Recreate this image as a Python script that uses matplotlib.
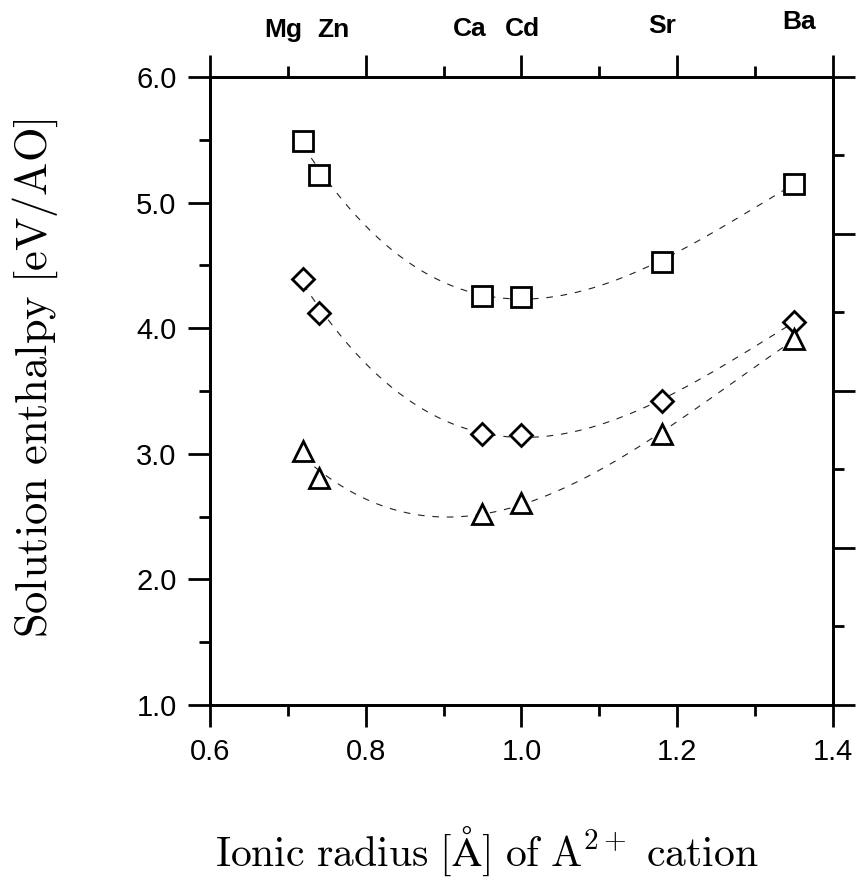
import numpy as np
import matplotlib
matplotlib.use("Agg")
import matplotlib.pyplot as plt
from matplotlib.ticker import MultipleLocator, FixedLocator, FormatStrFormatter

# data
elements = ["Mg", "Zn", "Ca", "Cd", "Sr", "Ba"]
radius = [0.72, 0.74, 0.95, 1.00, 1.18, 1.35]
h_square = [5.49, 5.22, 4.26, 4.25, 4.53, 5.15]
h_diamond = [4.39, 4.12, 3.16, 3.15, 3.42, 4.05]
h_triangle = [3.02, 2.81, 2.52, 2.61, 3.16, 3.91]

# top label placement (x in data units, height above frame in px)
label_x = [0.694, 0.758, 0.934, 1.001, 1.181, 1.357]
label_dy = [40, 40, 41, 41, 44, 48]

plt.rcParams["font.family"] = ["Liberation Sans", "DejaVu Sans"]
plt.rcParams["mathtext.fontset"] = "cm"

fig = plt.figure(figsize=(8.64, 8.8), dpi=100)
ax = fig.add_axes([0.243, 0.199, 0.721, 0.7135])

xs = np.linspace(min(radius), max(radius), 200)
for h, m, ms in [(h_square, "s", 15), (h_diamond, "D", 11), (h_triangle, "^", 15)]:
    c = np.polyfit(radius, h, 3)
    ax.plot(xs, np.polyval(c, xs), ls=(0, (6, 7)), lw=0.8, color="#222222", zorder=1)
    ax.plot(radius, h, ls="none", marker=m, ms=ms, mfc="white", mec="black",
            mew=2, zorder=2)

ax.set_xlim(0.6, 1.4)
ax.set_ylim(1.0, 6.0)
ax.xaxis.set_major_locator(MultipleLocator(0.2))
ax.xaxis.set_minor_locator(MultipleLocator(0.1))
ax.yaxis.set_major_locator(MultipleLocator(1.0))
ax.yaxis.set_minor_locator(MultipleLocator(0.5))
ax.xaxis.set_major_formatter(FormatStrFormatter("%.1f"))
ax.yaxis.set_major_formatter(FormatStrFormatter("%.1f"))
ax.tick_params(which="both", direction="out", width=2, labelsize=21, top=True,
               right=False, pad=8)
ax.tick_params(which="major", length=16)
ax.tick_params(which="minor", length=8)
for s in ax.spines.values():
    s.set_linewidth(2)

# right axis with its own tick spacing
ax2 = ax.twinx()
ax2.set_ylim(1.0, 6.0)
ax2.yaxis.set_major_locator(FixedLocator([1.0, 2.25, 3.5, 4.75, 6.0]))
ax2.yaxis.set_minor_locator(FixedLocator([1.625, 2.875, 4.125, 5.375]))
ax2.tick_params(which="both", direction="out", width=2, labelright=False)
ax2.tick_params(which="major", length=16)
ax2.tick_params(which="minor", length=8)
for s in ax2.spines.values():
    s.set_linewidth(2)

for name, lx, dy in zip(elements, label_x, label_dy):
    ax.annotate(name, xy=(lx, 1.0), xycoords=("data", "axes fraction"),
                xytext=(0, dy * 0.72), textcoords="offset points",
                ha="center", va="baseline", fontsize=19, fontweight="bold")

ax.set_xlabel(r"$\mathrm{Ionic\ radius\ [\AA]\ of\ A^{2+}\ cation}$", fontsize=30)
ax.set_ylabel(r"$\mathrm{Solution\ enthalpy\ [eV/AO]}$", fontsize=32)
ax.xaxis.set_label_coords(0.445, -0.19)
ax.yaxis.set_label_coords(-0.241, 0.521)

fig.savefig("out.png", dpi=100)
